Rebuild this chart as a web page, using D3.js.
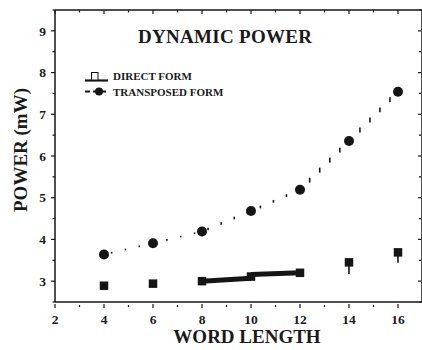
<!DOCTYPE html>
<html><head><meta charset="utf-8">
<script src="https://cdn.jsdelivr.net/npm/d3@7"></script>
<style>
html,body{margin:0;padding:0;background:#fff;}
svg{display:block;}
text{font-family:"Liberation Serif","Times New Roman",serif;font-weight:bold;fill:#1a1a1a;}
</style></head>
<body>
<script>
// ---- data ----
const wordLength = [4, 6, 8, 10, 12, 14, 16];
const directPower = [2.89, 2.94, 3.00, 3.11, 3.20, 3.45, 3.69];
const transposedPower = [3.64, 3.91, 4.19, 4.68, 5.19, 6.36, 7.54];
// visible pieces of the direct-form trace
const directTraceSegments = [[[8, 3.00], [10, 3.07]], [[10, 3.16], [12, 3.20]]];
const directDrops = [[14, 3.17, 3.45], [16, 3.44, 3.69]];
const xTickValues = [2, 4, 6, 8, 10, 12, 14, 16];
const yTickValues = [3, 4, 5, 6, 7, 8, 9];
const title = "DYNAMIC POWER";
const xLabel = "WORD LENGTH";
const yLabel = "POWER (mW)";
const legendLabels = ["DIRECT FORM", "TRANSPOSED FORM"];

const W = 422, H = 350;
const svg = d3.select("body").append("svg").attr("width", W).attr("height", H);
const x = d3.scaleLinear().domain([2, 17]).range([55, 422.5]);
const y = d3.scaleLinear().domain([2.5, 9.5]).range([302, 10]);
const ink = "#151515";

// frame
const frame = svg.append("g").attr("stroke", ink).attr("stroke-width", 1.5).attr("fill", "none");
frame.append("line").attr("x1", x(2)).attr("x2", x(17)).attr("y1", y(2.5)).attr("y2", y(2.5));
frame.append("line").attr("x1", x(2)).attr("x2", x(17)).attr("y1", y(9.5)).attr("y2", y(9.5));
frame.append("line").attr("x1", x(2)).attr("x2", x(2)).attr("y1", y(2.5)).attr("y2", y(9.5));
frame.append("line").attr("x1", x(17)-0.5).attr("x2", x(17)-0.5).attr("y1", y(2.5)).attr("y2", y(9.5));

// ticks
const xMinor = d3.range(3, 17, 2);
const yMinor = d3.range(2.5, 9.6, 1);
const tk = svg.append("g").attr("stroke", ink).attr("stroke-width", 1.2);
xTickValues.forEach(v => {
  tk.append("line").attr("x1", x(v)).attr("x2", x(v)).attr("y1", y(2.5)+2).attr("y2", y(2.5)+6);
  tk.append("line").attr("x1", x(v)).attr("x2", x(v)).attr("y1", y(9.5)).attr("y2", y(9.5)+4);
});
xMinor.forEach(v => {
  tk.append("line").attr("x1", x(v)).attr("x2", x(v)).attr("y1", y(2.5)+3).attr("y2", y(2.5)+5);
  tk.append("line").attr("x1", x(v)).attr("x2", x(v)).attr("y1", y(9.5)).attr("y2", y(9.5)+2.5);
});
yTickValues.forEach(v => {
  tk.append("line").attr("x1", x(2)-4).attr("x2", x(2)).attr("y1", y(v)).attr("y2", y(v));
  tk.append("line").attr("x1", 418).attr("x2", 421).attr("y1", y(v)).attr("y2", y(v));
});
yMinor.forEach(v => {
  tk.append("line").attr("x1", x(2)-2.5).attr("x2", x(2)).attr("y1", y(v)).attr("y2", y(v));
  tk.append("line").attr("x1", 419).attr("x2", 421).attr("y1", y(v)).attr("y2", y(v));
});

// tick labels
svg.append("g").selectAll("text").data(xTickValues).join("text")
  .attr("x", d => x(d)).attr("y", 324).attr("text-anchor", "middle")
  .attr("font-size", 13.5).text(d => d);
svg.append("g").selectAll("text").data(yTickValues).join("text")
  .attr("x", 46).attr("y", d => y(d)).attr("dy", "0.35em").attr("text-anchor", "end")
  .attr("font-size", 13.5).text(d => d);

// axis titles
svg.append("text").attr("x", 247).attr("y", 343).attr("text-anchor", "middle")
  .attr("font-size", 19).text(xLabel);
svg.append("text").attr("transform", "translate(27,150) rotate(-90)").attr("text-anchor", "middle")
  .attr("font-size", 19).text(yLabel);

// title
svg.append("text").attr("x", 138).attr("y", 43).attr("font-size", 19)
  .attr("textLength", 174).attr("lengthAdjust", "spacing").text(title);

// transposed-form dotted trace: short vertical dashes along the line
const tData = wordLength.map((w, i) => [x(w), y(transposedPower[i])]);
const guide = svg.append("path").attr("d", d3.line()(tData)).attr("fill", "none").attr("stroke", "none");
const gNode = guide.node();
const total = gNode.getTotalLength();
const period = 14.2;
const dash = svg.append("g").attr("stroke", ink).attr("stroke-width", 1.6);
for (let s = 7.8; s < total; s += period) {
  const p0 = gNode.getPointAtLength(s);
  const p1 = gNode.getPointAtLength(Math.min(total, s + 1));
  const dyds = Math.abs(p1.y - p0.y) / Math.max(0.001, Math.hypot(p1.x - p0.x, p1.y - p0.y));
  const len = Math.max(1.7, 7 * dyds);
  dash.append("line").attr("x1", p0.x).attr("x2", p0.x).attr("y1", p0.y - len / 2).attr("y2", p0.y + len / 2);
}

// direct-form trace pieces
svg.append("g").selectAll("line").data(directTraceSegments).join("line")
  .attr("x1", d => x(d[0][0])).attr("y1", d => y(d[0][1]))
  .attr("x2", d => x(d[1][0])).attr("y2", d => y(d[1][1]))
  .attr("stroke", ink).attr("stroke-width", 5);
svg.append("g").selectAll("line").data(directDrops).join("line")
  .attr("x1", d => x(d[0])).attr("x2", d => x(d[0]))
  .attr("y1", d => y(d[1])).attr("y2", d => y(d[2]))
  .attr("stroke", ink).attr("stroke-width", 1.6);

// markers
const sq = 8.5;
svg.append("g").selectAll("rect").data(wordLength).join("rect")
  .attr("x", d => x(d) - sq / 2).attr("y", (d, i) => y(directPower[i]) - sq / 2)
  .attr("width", sq).attr("height", sq).attr("fill", ink);
svg.append("g").selectAll("circle").data(wordLength).join("circle")
  .attr("cx", d => x(d)).attr("cy", (d, i) => y(transposedPower[i])).attr("r", 5).attr("fill", ink);

// legend
const lg = svg.append("g");
lg.append("line").attr("x1", 85).attr("x2", 108).attr("y1", 80.5).attr("y2", 80.5)
  .attr("stroke", ink).attr("stroke-width", 2.2);
lg.append("rect").attr("x", 91.5).attr("y", 72.5).attr("width", 6.5).attr("height", 7.5)
  .attr("fill", "#fff").attr("stroke", ink).attr("stroke-width", 1);
lg.append("line").attr("x1", 85).attr("x2", 106).attr("y1", 91.5).attr("y2", 91.5)
  .attr("stroke", ink).attr("stroke-width", 2.2).attr("stroke-dasharray", "5,3");
lg.append("circle").attr("cx", 99).attr("cy", 91.5).attr("r", 4).attr("fill", ink);
lg.append("text").attr("x", 113).attr("y", 79.5).attr("font-size", 11).text(legendLabels[0]);
lg.append("text").attr("x", 113).attr("y", 95.5).attr("font-size", 11).text(legendLabels[1]);
</script>
</body></html>
